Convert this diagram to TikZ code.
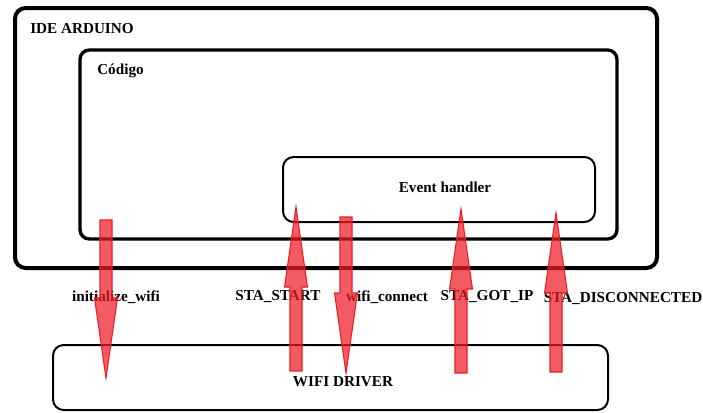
\documentclass[tikz,border=0pt]{standalone}
\usepackage{fontspec}
\setmainfont{Liberation Serif}
\usetikzlibrary{calc}
\definecolor{arrowred}{RGB}{237,28,36}
\tikzset{
    box/.style={draw, rounded corners=8pt, inner sep=0pt}, % the rounded frames
    lbl/.style={font=\bfseries\fontsize{11.4}{13}\selectfont, inner sep=0pt},
    fatarrow/.style={draw=arrowred, fill=arrowred, fill opacity=0.72, line width=0.8pt, line join=miter},
}
% wide arrow from #1 (tail) to #2 (tip)
\newcommand{\fatarrow}[2]{%
    \filldraw[fatarrow] let \p1=(#1), \p2=(#2), \n1={sign(\y2-\y1)} in
        (\x1-4.5pt,\y1) -- (\x1-4.5pt,\y2-\n1*60pt) -- (\x1-8.6pt,\y2-\n1*60pt) -- (\x1,\y2)
        -- (\x1+8.6pt,\y2-\n1*60pt) -- (\x1+4.5pt,\y2-\n1*60pt) -- (\x1+4.5pt,\y1) -- cycle;
}

\begin{document}
\begin{tikzpicture}[x=0.75pt, y=-0.75pt]
    \useasboundingbox (0,0) rectangle (703,412);
    % frames
    \node[box, line width=3pt, minimum width=481.5pt, minimum height=195pt] (ide) at (336,138) {};
    \node[box, line width=2.5pt, minimum width=402.75pt, minimum height=141.75pt, rounded corners=7pt] (code) at (348.5,144.5) {};
    \node[box, line width=1.5pt, minimum width=234pt, minimum height=48.75pt] (handler) at (439,189.5) {};
    \node[box, line width=1.5pt, minimum width=416.25pt, minimum height=48.75pt] (driver) at (330.5,377.5) {};
    % titles
    \node[lbl, anchor=west] (ideText) at (30,29) {IDE ARDUINO};
    \node[lbl, anchor=west] (codeText) at (97,71) {Código};
    \node[lbl] (handlerText) at (445,187) {Event handler};
    \node[lbl] (driverText) at (343,382) {WIFI DRIVER};
    % calls and events
    \node[lbl] (initText) at (116,297) {initialize\_wifi};
    \node[lbl] (startText) at (278,297) {STA\_START};
    \node[lbl] (connText) at (387,297) {wifi\_connect};
    \node[lbl] (gotipText) at (487,297) {STA\_GOT\_IP};
    \node[lbl] (discText) at (623,299) {STA\_DISCONNECTED};
    % arrow ends
    \coordinate (initA) at (106,220);   \coordinate (initB) at (106,378);
    \coordinate (startA) at (296,371);  \coordinate (startB) at (296,207);
    \coordinate (connA) at (346,217);   \coordinate (connB) at (346,373);
    \coordinate (gotipA) at (461,373);  \coordinate (gotipB) at (461,209);
    \coordinate (discA) at (556,372);   \coordinate (discB) at (556,213);
    \fatarrow{initA}{initB}
    \fatarrow{startA}{startB}
    \fatarrow{connA}{connB}
    \fatarrow{gotipA}{gotipB}
    \fatarrow{discA}{discB}
\end{tikzpicture}
\end{document}
